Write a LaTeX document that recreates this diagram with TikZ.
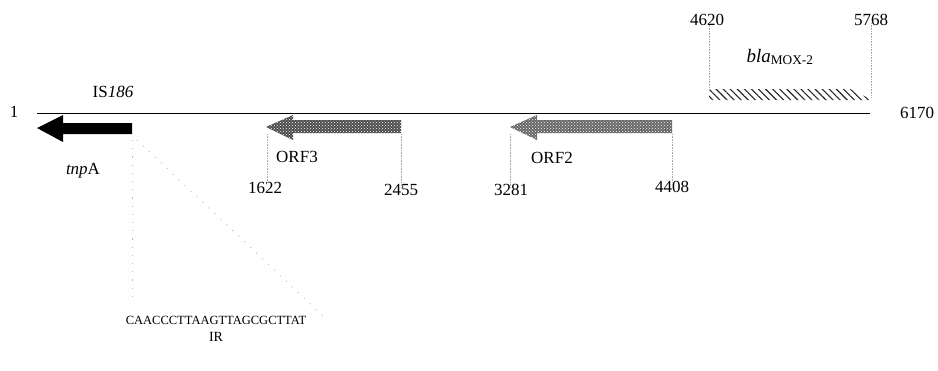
\documentclass[tikz,border=0pt]{standalone}
\usepackage{fontspec}
\setmainfont{Liberation Serif}
\usetikzlibrary{patterns,patterns.meta}
\begin{document}
\begin{tikzpicture}[x=1pt,y=-1pt,
  lab/.style={font=\fontsize{17}{20}\selectfont, inner sep=0pt},
  seqlab/.style={font=\fontsize{12.5}{15}\selectfont, inner sep=0pt},
  guide/.style={draw=gray!65, densely dotted, line width=0.6pt},
  sparse/.style={draw=gray!55, dash pattern=on 1.2pt off 7pt, line width=0.7pt},
  orf/.style={fill=black!#1, postaction={pattern=crosshatch dots, pattern color=white}}]
\useasboundingbox (0,0) rectangle (938,370);

% main line
\coordinate (L0) at (37,113);
\coordinate (L1) at (870,113);
\draw[line width=1pt] (L0) -- (L1);
\node[lab] (n1) at (14,112) {1};
\node[lab] (n6170) at (917,113) {6170};

% IS186 / tnpA
\node[lab] (is) at (113,92) {IS\textit{186}};
\fill (132,123) -- (63,123) -- (63,115) -- (37,128) -- (63,142) -- (63,134) -- (132,134) -- cycle;
\node[lab] (tnpa) at (83,171) {\textit{tnp}A};
\coordinate (tnpR) at (132,140);
\coordinate (tnpRb) at (132,302);
\coordinate (tnpD) at (137,140);
\coordinate (tnpDb) at (323,316);
\draw[sparse] (tnpR) -- (tnpRb);
\draw[sparse] (tnpD) -- (tnpDb);
\node[seqlab] (seq) at (216,320) {CAACCCTTAAGTTAGCGCTTAT};
\node[font=\fontsize{14}{16}\selectfont, inner sep=0pt] (ir) at (216,337) {IR};

% ORF3
\path[orf=70] (401,120) -- (293,120) -- (293,115) -- (266,127) -- (293,140) -- (293,133) -- (401,133) -- cycle;
\node[lab] (orf3) at (297,157) {ORF3};
\node[lab] (p1622) at (265,188) {1622};
\node[lab] (p2455) at (401,190) {2455};
\coordinate (o3a) at (267,134);
\coordinate (o3b) at (401,134);
\draw[guide] (o3a) -- (p1622.north -| o3a);
\draw[guide] (o3b) -- ([yshift=-3pt]p2455.north);

% ORF2
\path[orf=60] (672,120) -- (537,120) -- (537,115) -- (510,127) -- (537,140) -- (537,133) -- (672,133) -- cycle;
\node[lab] (orf2) at (552,158) {ORF2};
\node[lab] (p3281) at (511,190) {3281};
\node[lab] (p4408) at (672,187) {4408};
\coordinate (o2a) at (510,134);
\coordinate (o2b) at (672,134);
\draw[guide] (o2a) -- ([yshift=-3pt]p3281.north -| o2a);
\draw[guide] (o2b) -- ([yshift=-3pt]p4408.north);

% bla MOX-2
\path[pattern={Lines[angle=-45,distance=5pt,line width=1.1pt]}, pattern color=black!85] (709,89) -- (850,89) -- (872,100) -- (709,100) -- cycle;
\node[lab] (p4620) at (707,20) {4620};
\node[lab] (p5768) at (871,20) {5768};
\node[font=\fontsize{19}{22}\selectfont, inner sep=0pt] (bla) at (780,57) {\textit{bla}\textsubscript{MOX-2}};
\coordinate (ba) at (709,89);
\coordinate (bb) at (871,97);
\draw[guide] ([yshift=3pt]p4620.south -| ba) -- (ba);
\draw[guide] ([yshift=3pt]p5768.south) -- (bb);
\end{tikzpicture}
\end{document}
